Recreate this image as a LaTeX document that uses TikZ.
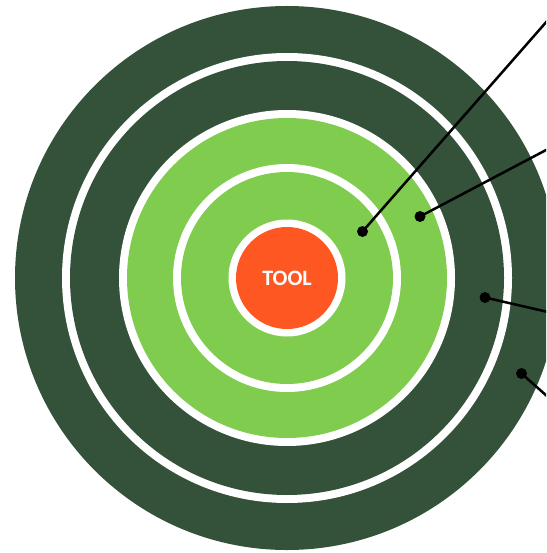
\documentclass[tikz,border=0pt]{standalone}
\usepackage{fontspec}
\setsansfont{Carlito}
\usepackage{tikz}
\usetikzlibrary{positioning}
\definecolor{RingDark}{HTML}{34513A}
\definecolor{RingLight}{HTML}{80CC4E}
\definecolor{CoreOrange}{HTML}{FF5722}
\definecolor{Gap}{HTML}{FFFFFF}

\begin{document}
\begin{tikzpicture}[
    x=1pt, y=-1pt,
    pin dot/.style={circle, fill=black, inner sep=0pt, minimum size=11pt},
    lead/.style={draw=black, line width=2.5pt}
  ]
  \useasboundingbox (0,0) rectangle (546,553);
  \clip (0,0) rectangle (546,553);
  % target rings, outside in
  \fill[RingDark] (287,278) circle[radius=272pt];
  \fill[Gap] (287,278) circle[radius=225pt];
  \fill[RingDark] (287,278) circle[radius=217pt];
  \fill[Gap] (287,278) circle[radius=168pt];
  \fill[RingLight] (287,278) circle[radius=160pt];
  \fill[Gap] (287,278) circle[radius=114pt];
  \fill[RingLight] (287,278) circle[radius=106pt];
  \fill[Gap] (287,278) circle[radius=58.5pt];
  \node[
    circle,
    fill=CoreOrange,
    minimum size=102pt,
    inner sep=0pt,
    text=white,
    font=\sffamily\bfseries\fontsize{22}{24}\selectfont
  ] (tool) at (287,278) {TOOL};
  % callout dots and leads
  \node[pin dot] (pinone) at (362.5,231.5) {};
  \node[pin dot] (pintwo) at (420,216.5) {};
  \node[pin dot] (pinthree) at (485,297.5) {};
  \node[pin dot] (pinfour) at (521.5,373.5) {};
  \coordinate (endone) at (548,20);
  \coordinate (endtwo) at (548,149);
  \coordinate (endthree) at (548,312);
  \coordinate (endfour) at (548,397);
  \draw[lead] (pinone.center) -- (endone);
  \draw[lead] (pintwo.center) -- (endtwo);
  \draw[lead] (pinthree.center) -- (endthree);
  \draw[lead] (pinfour.center) -- (endfour);
\end{tikzpicture}
\end{document}
